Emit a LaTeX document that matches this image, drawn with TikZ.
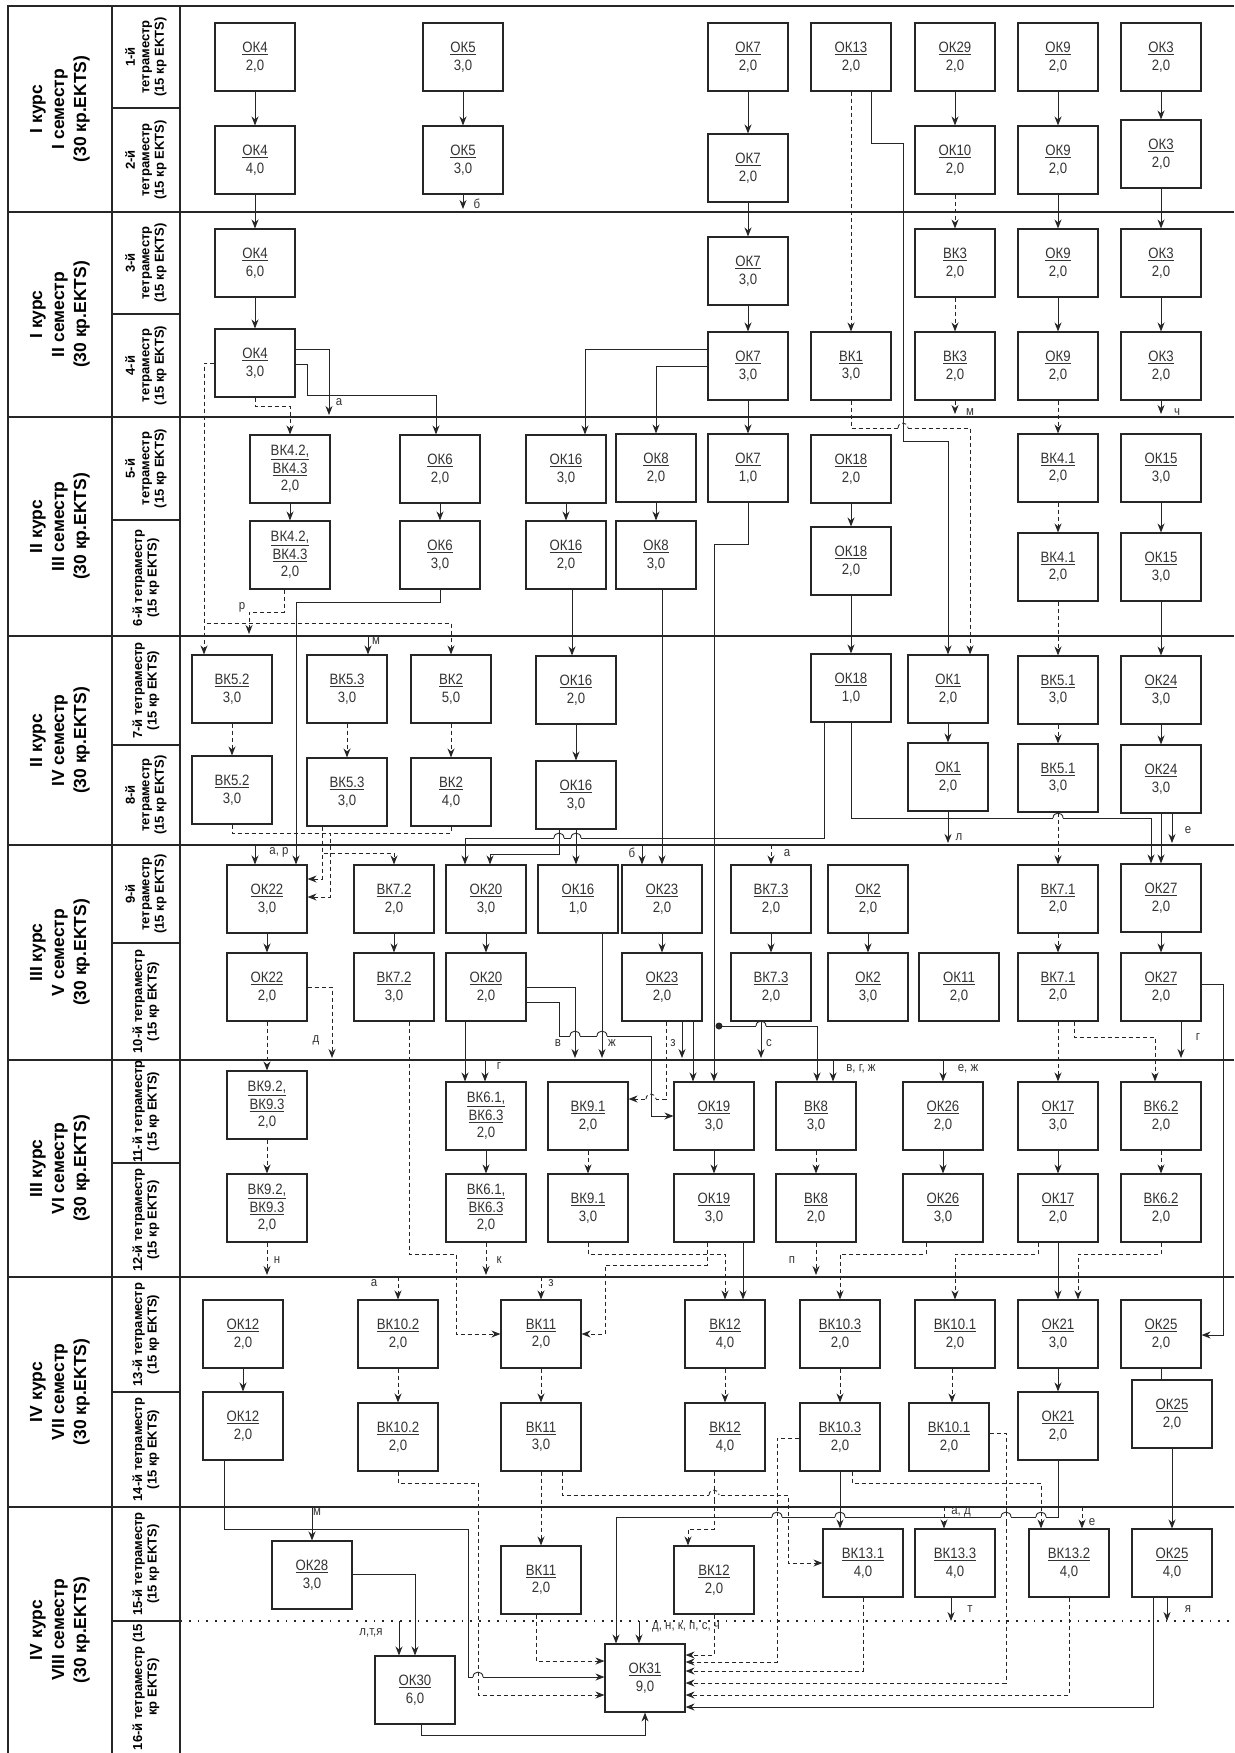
\documentclass[tikz,border=0pt]{standalone}
\usepackage{fontspec}
\setmainfont{Liberation Sans}
\newfontfamily\boxfont{Liberation Sans}[FakeStretch=0.88]
\usetikzlibrary{arrows.meta}

\begin{document}
\begin{tikzpicture}[x=1pt,y=-1pt,
    box/.style={draw=black!85,line width=1.1pt,minimum width=80pt,minimum height=68pt,
      inner sep=0pt,align=center,text=black!80,font=\boxfont\fontsize{15}{17.5}\selectfont},
    ln/.style={draw=black!85,line width=0.9pt},
    arr/.style={ln,-{Stealth[length=9pt,width=7pt]}},
    darr/.style={arr,dash pattern=on 4pt off 3pt},
    dln/.style={ln,dash pattern=on 4pt off 3pt},
    lbl/.style={inner sep=0pt,text=black!80,font=\boxfont\fontsize{13}{15}\selectfont},
    semlbl/.style={rotate=90,align=center,font=\bfseries\fontsize{17.5}{22}\selectfont},
    tetlbl/.style={rotate=90,align=center,font=\bfseries\fontsize{13}{14.5}\selectfont}]
  \useasboundingbox (0,0) rectangle (1234,1753);
  % Sitka: semestry i tetramestry
  \draw[black!85,line width=1.2pt] (1234,6) -- (8,6) -- (8,1753) (112,6) -- (112,1753) (180,6) -- (180,1753);
  \foreach \y in {212,417,636,845,1060,1277,1507}
    \draw[black!85,line width=1.2pt] (8,\y) -- (1234,\y);
  \foreach \y in {108,314,520,745,943,1163,1392,1621}
    \draw[black!85,line width=1.2pt] (112,\y) -- (180,\y);
  \draw[black!85,line width=1.8pt,dash pattern=on 1.8pt off 7pt] (180,1621) -- (1234,1621);
  \foreach \ya/\yb/\txt [count=\i] in {6/212/{I курс\\I семестр\\(30 кр.EKTS)},
      212/417/{I курс\\II семестр\\(30 кр.EKTS)}, 417/636/{II курс\\III семестр\\(30 кр.EKTS)},
      636/845/{II курс\\IV семестр\\(30 кр.EKTS)}, 845/1060/{III курс\\V семестр\\(30 кр.EKTS)},
      1060/1277/{III курс\\VI семестр\\(30 кр.EKTS)}, 1277/1507/{IV курс\\VII семестр\\(30 кр.EKTS)},
      1507/1753/{IV курс\\VIII семестр\\(30 кр.EKTS)}}
    \node[semlbl] (sem\i) at (60,{(\ya+\yb)/2}) {\txt};
  \foreach \ya/\yb/\txt [count=\i] in {6/108/{1-й\\тетраместр\\(15 кр EKTS)},
      108/212/{2-й\\тетраместр\\(15 кр EKTS)}, 212/314/{3-й\\тетраместр\\(15 кр EKTS)},
      314/417/{4-й\\тетраместр\\(15 кр EKTS)}, 417/520/{5-й\\тетраместр\\(15 кр EKTS)},
      520/636/{6-й тетраместр\\(15 кр EKTS)}, 636/745/{7-й тетраместр\\(15 кр EKTS)},
      745/845/{8-й\\тетраместр\\(15 кр EKTS)}, 845/943/{9-й\\тетраместр\\(15 кр EKTS)},
      943/1060/{10-й тетраместр\\(15 кр EKTS)}, 1060/1163/{11-й тетраместр\\(15 кр EKTS)},
      1163/1277/{12-й тетраместр\\(15 кр EKTS)}, 1277/1392/{13-й тетраместр\\(15 кр EKTS)},
      1392/1507/{14-й тетраместр\\(15 кр EKTS)}, 1507/1621/{15-й тетраместр\\(15 кр EKTS)},
      1621/1753/{16-й тетраместр (15\\кр EKTS)}}{
    \begin{scope}
      \clip (112,\ya) rectangle (180,\yb);
      \node[tetlbl] (tet\i) at (146,{(\ya+\yb)/2}) {\txt};
    \end{scope}}
  % Dystsypliny
  \foreach \n/\x/\y/\k/\c in {ok4a/255/57/ОК4/{2,0}, ok5a/463/57/ОК5/{3,0}, ok7a/748/57/ОК7/{2,0},
      ok13/851/57/ОК13/{2,0}, ok29/955/57/ОК29/{2,0}, ok9a/1058/57/ОК9/{2,0}, ok3a/1161/57/ОК3/{2,0},
      ok4b/255/160/ОК4/{4,0}, ok5b/463/160/ОК5/{3,0}, ok7b/748/168/ОК7/{2,0}, ok10/955/160/ОК10/{2,0},
      ok9b/1058/160/ОК9/{2,0}, ok3b/1161/154/ОК3/{2,0},
      ok4c/255/263/ОК4/{6,0}, ok7c/748/271/ОК7/{3,0}, bk3a/955/263/ВК3/{2,0}, ok9c/1058/263/ОК9/{2,0},
      ok3c/1161/263/ОК3/{2,0},
      ok4d/255/363/ОК4/{3,0}, ok7d/748/366/ОК7/{3,0}, bk1/851/366/ВК1/{3,0}, bk3b/955/366/ВК3/{2,0},
      ok9d/1058/366/ОК9/{2,0}, ok3d/1161/366/ОК3/{2,0},
      ok6a/440/469/ОК6/{2,0}, ok16a/566/469/ОК16/{3,0}, ok8a/656/468/ОК8/{2,0}, ok7e/748/468/ОК7/{1,0},
      ok18a/851/469/ОК18/{2,0}, bk41a/1058/468/ВК4.1/{2,0}, ok15a/1161/468/ОК15/{3,0},
      ok6b/440/555/ОК6/{3,0}, ok16b/566/555/ОК16/{2,0}, ok8b/656/555/ОК8/{3,0}, ok18b/851/561/ОК18/{2,0},
      bk41b/1058/567/ВК4.1/{2,0}, ok15b/1161/567/ОК15/{3,0},
      bk52a/232/689/ВК5.2/{3,0}, bk53a/347/689/ВК5.3/{3,0}, bk2a/451/689/ВК2/{5,0}, ok16c/576/690/ОК16/{2,0},
      ok18c/851/688/ОК18/{1,0}, ok1a/948/689/ОК1/{2,0}, bk51a/1058/690/ВК5.1/{3,0}, ok24a/1161/690/ОК24/{3,0},
      bk52b/232/790/ВК5.2/{3,0}, bk53b/347/792/ВК5.3/{3,0}, bk2b/451/792/ВК2/{4,0}, ok16d/576/795/ОК16/{3,0},
      ok1b/948/777/ОК1/{2,0}, bk51b/1058/778/ВК5.1/{3,0}, ok24b/1161/779/ОК24/{3,0},
      ok22a/267/899/ОК22/{3,0}, bk72a/394/899/ВК7.2/{2,0}, ok20a/486/899/ОК20/{3,0}, ok16e/578/899/ОК16/{1,0},
      ok23a/662/899/ОК23/{2,0}, bk73a/771/899/ВК7.3/{2,0}, ok2a/868/899/ОК2/{2,0}, bk71a/1058/899/ВК7.1/{2,0},
      ok27a/1161/898/ОК27/{2,0},
      ok22b/267/987/ОК22/{2,0}, bk72b/394/987/ВК7.2/{3,0}, ok20b/486/987/ОК20/{2,0}, ok23b/662/987/ОК23/{2,0},
      bk73b/771/987/ВК7.3/{2,0}, ok2b/868/987/ОК2/{3,0}, ok11/959/987/ОК11/{2,0}, bk71b/1058/987/ВК7.1/{2,0},
      ok27b/1161/987/ОК27/{2,0},
      bk91a/588/1116/ВК9.1/{2,0}, ok19a/714/1116/ОК19/{3,0}, bk8a/816/1116/ВК8/{3,0}, ok26a/943/1116/ОК26/{2,0},
      ok17a/1058/1116/ОК17/{3,0}, bk62a/1161/1116/ВК6.2/{2,0},
      bk91b/588/1208/ВК9.1/{3,0}, ok19b/714/1208/ОК19/{3,0}, bk8b/816/1208/ВК8/{2,0}, ok26b/943/1208/ОК26/{3,0},
      ok17b/1058/1208/ОК17/{2,0}, bk62b/1161/1208/ВК6.2/{2,0},
      ok12a/243/1334/ОК12/{2,0}, bk102a/398/1334/ВК10.2/{2,0}, bk11a/541/1334/ВК11/{2,0}, bk12a/725/1334/ВК12/{4,0},
      bk103a/840/1334/ВК10.3/{2,0}, bk101a/955/1334/ВК10.1/{2,0}, ok21a/1058/1334/ОК21/{3,0}, ok25a/1161/1334/ОК25/{2,0},
      ok12b/243/1426/ОК12/{2,0}, bk102b/398/1437/ВК10.2/{2,0}, bk11b/541/1437/ВК11/{3,0}, bk12b/725/1437/ВК12/{4,0},
      bk103b/840/1437/ВК10.3/{2,0}, bk101b/949/1437/ВК10.1/{2,0}, ok21b/1058/1426/ОК21/{2,0}, ok25b/1172/1414/ОК25/{2,0},
      ok28/312/1575/ОК28/{3,0}, bk11c/541/1580/ВК11/{2,0}, bk12c/714/1580/ВК12/{2,0}, bk131/863/1563/ВК13.1/{4,0},
      bk133/955/1563/ВК13.3/{4,0}, bk132/1069/1563/ВК13.2/{4,0}, ok25c/1172/1563/ОК25/{4,0},
      ok30/415/1690/ОК30/{6,0}, ok31/645/1678/ОК31/{9,0}}
    \node[box] (\n) at (\x,\y) {\underline{\k}\\\c};
  \foreach \n/\x/\y/\ka/\kb in {bk42a/290/469/ВК4.2/ВК4.3, bk42b/290/555/ВК4.2/ВК4.3, bk92a/267/1105/ВК9.2/ВК9.3,
      bk92b/267/1208/ВК9.2/ВК9.3, bk61a/486/1116/ВК6.1/ВК6.3, bk61b/486/1208/ВК6.1/ВК6.3}
    \node[box] (\n) at (\x,\y) {\underline{\ka,}\\\underline{\kb}\\2,0};
  % Vilni kintsi strilok
  \foreach \n/\x/\y in {sb1/463/209, sm1/955/414, sch/1161/414, sa1/329/415, sr/249/634, sl/948/843,
      se1/1172/843, szh/602/1058, sd/332/1058, sv/575/1058, sz2/682/1058, ss/761/1058, sg2/1181/1058,
      sn/267/1275, sk/486/1275, sp/816/1275, st/951/1621, sya/1167/1621,
      sar/255/845, sm2/368/636, sb2/642/845, sa2/771/845, sg1/485/1060, svgzh/833/1060, sezh/943/1060,
      sa3/398/1277, sz3/541/1277, sm3/312/1507, slty/399/1621, sad/944/1507, se2/1082/1507, sdn/639/1621,
      dot/719/1026}
    \coordinate (\n) at (\x,\y);
  \foreach \x/\y/\t [count=\i] in {477/204/б, 970/412/м, 1177/412/ч, 339/402/а, 242/607/р, 376/641/м,
      279/852/{а, р}, 959/837/л, 1188/830/е, 632/853/б, 787/853/а, 612/1043/ж, 558/1043/в, 673/1043/з,
      769/1043/с, 316/1040/д, 1198/1037/г, 499/1066/г, 861/1069/{в, г, ж}, 968/1069/{е, ж}, 277/1260/н,
      499/1260/к, 792/1260/п, 374/1283/а, 551/1283/з, 317/1512/м, 371/1633/{л,т,я}, 961/1512/{а, д},
      1092/1522/е, 970/1609/т, 1188/1609/я, 686/1627/{д, н, к, п, с, ч}}
    \node[lbl] (lab\i) at (\x,\y) {\t};
  % Priami zviazky
  \foreach \na/\nb in {ok4a/ok4b, ok4b/ok4c, ok4c/ok4d, ok5a/ok5b, ok7a/ok7b, ok7b/ok7c, ok7c/ok7d,
      ok7d/ok7e, ok29/ok10, ok9a/ok9b, ok9b/ok9c, ok9c/ok9d, ok3a/ok3b, ok3b/ok3c, ok3c/ok3d,
      bk42a/bk42b, ok6a/ok6b, ok16a/ok16b, ok8a/ok8b, ok18a/ok18b, ok18b/ok18c, ok15a/ok15b,
      ok15b/ok24a, ok24a/ok24b, ok24b/ok27a, ok1a/ok1b, ok16c/ok16d, ok22a/ok22b, bk72a/bk72b,
      ok20a/ok20b, ok23a/ok23b, bk73a/bk73b, ok2a/ok2b, ok27a/ok27b, bk61a/bk61b, ok19a/ok19b,
      ok26a/ok26b, ok17a/ok17b, ok17b/ok21a, ok21a/ok21b, ok12a/ok12b, ok25b/ok25c}
    \draw[arr] (\na) -- (\nb);
  \foreach \na/\nb in {ok10/bk3a, bk3a/bk3b, ok13/bk1, ok9d/bk41a, bk41a/bk41b, bk41b/bk51a,
      bk51a/bk51b, bk51b/bk71a, bk71a/bk71b, bk71b/ok17a, bk52a/bk52b, bk53a/bk53b, bk2a/bk2b,
      ok22b/bk92a, bk92a/bk92b, bk91a/bk91b, bk8a/bk8b, bk62a/bk62b, bk102a/bk102b, bk11a/bk11b,
      bk12a/bk12b, bk103a/bk103b, bk11b/bk11c}
    \draw[darr] (\na) -- (\nb);
  \foreach \na/\nb/\ls in {ok5b/sb1/arr, bk3b/sm1/darr, ok3d/sch/arr, ok1b/sl/arr, ok24b/se1/arr,
      ok16e/szh/arr, ok23b/sz2/arr, bk73b/ss/arr, ok27b/sg2/arr, bk92b/sn/darr, bk61b/sk/darr,
      bk8b/sp/darr, bk133/st/arr, ok25c/sya/arr}
    \draw[\ls] (\na.south -| \nb) -- (\nb);
  \foreach \na/\nb/\ls in {sar/ok22a/arr, sm2/bk53a/arr, sb2/ok23a/arr, sa2/bk73a/darr, sg1/bk61a/arr,
      svgzh/bk8a/arr, sezh/ok26a/arr, sa3/bk102a/darr, sz3/bk11a/darr, sm3/ok28/arr, slty/ok30/arr,
      sad/bk133/darr, se2/bk132/darr, sdn/ok31/arr}
    \draw[\ls] (\na) -- (\nb.north -| \na);
  % Lamani zviazky
  \draw[arr] (ok13.south -| 871,0) |- (903,143) |- (ok1a.north |- 0,441) -- (ok1a.north);
  \draw[darr] (bk1.south) |- (970,428) -- (ok1a.north -| 970,0);
  \draw[arr] (ok4d.east |- 0,349) -| (sa1);
  \draw[arr] (ok4d.east |- 0,364) -| (307,395) -| (ok6a.north -| 436,0);
  \draw[darr] (ok4d.south) |- (bk42a.north |- 0,406) -- (bk42a.north);
  \draw[darr] (ok4d.west |- 0,363) -| (bk52a.north -| 204,0);
  \draw[darr] (ok4d.west |- 0,363) -| (204,623) -| (bk2a.north);
  \draw[arr] (ok7d.west |- 0,349) -| (ok16a.north -| 585,0);
  \draw[arr] (ok7d.west |- 0,366) -| (ok8a.north);
  \draw[darr] (bk42b.south -| 284,0) |- (249,612) -- (sr);
  \draw[arr] (ok6b.south) |- (296,602) -- (ok22a.north -| 296,0);
  \draw[arr] (ok16b.south -| 572,0) -- (ok16c.north -| 572,0);
  \draw[darr] (bk52b.south) |- (330,833) |- (ok22a.east |- 0,897);
  \draw[dln] (bk2b.south) |- (330,833);
  \draw[darr] (bk53b.south -| 322,0) |- (ok22a.east |- 0,879);
  \draw[darr] (bk53b.south -| 322,0) |- (bk72a.north |- 0,853) -- (bk72a.north);
  \draw[arr] (ok16d.south -| 559,0) |- (490,854) -- (ok20a.north -| 490,0);
  \draw[arr] (ok16d.south) -- (ok16e.north -| ok16d.south);
  \draw[arr] (ok18c.south -| 824,0) |- (465,838) -- (ok20a.north -| 465,0);
  \draw[arr] (ok18c.south) |- (1151,818) -- (ok27a.north -| 1151,0);
  \draw[arr] (ok8b.south -| 662,0) -- (ok23a.north);
  \draw[arr] (ok7e.south) |- (714,544) -- (ok19a.north);
  \fill[black!85] (dot) circle[radius=3.5pt];
  \draw[arr] (dot) -| (bk8a.north -| 817,0);
  \draw[darr] (ok22b.east |- 0,987) -| (sd);
  \draw[darr] (bk72b.south -| 409,0) |- (456,1254) |- (bk11a.west |- 0,1334);
  \draw[arr] (ok20b.south -| 465,0) -- (bk61a.north -| 465,0);
  \draw[arr] (ok20b.east |- 0,987) -| (sv);
  \draw[arr] (ok20b.east |- 0,1002) -| (559,1036) -| (651,1116) -- (ok19a.west |- 0,1116);
  \draw[darr] (ok23b.south -| 666,0) |- (bk91a.east |- 0,1099);
  \draw[arr] (ok23b.south -| 693,0) -- (ok19a.north -| 693,0);
  \draw[darr] (bk71b.south -| 1074,0) |- (1155,1037) -- (bk62a.north -| 1155,0);
  \draw[arr] (ok27b.east |- 0,984) -| (1223,1335) -- (ok25a.east |- 0,1335);
  \draw[darr] (bk91b.south) |- (725,1254) -- (bk12a.north);
  \draw[darr] (ok19b.south -| 707,0) |- (605,1265) |- (bk11a.east |- 0,1334);
  \draw[arr] (ok19b.south -| 743,0) -- (bk12a.north -| 743,0);
  \draw[darr] (ok26b.south -| 926,0) |- (840,1254) -- (bk103a.north);
  \draw[darr] (ok17b.south -| 1038,0) |- (955,1254) -- (bk101a.north);
  \draw[darr] (bk62b.south) |- (1078,1254) -- (ok21a.north -| 1078,0);
  \draw[darr] (bk101a.south -| 952,0) -- (bk101b.north -| 952,0);
  \draw[ln] (ok25a.south) -- (ok25a.south |- ok25b.north);
  \draw[arr] (ok12b.south -| 224,0) |- (468,1529) |- (ok31.west |- 0,1677);
  \draw[arr] (ok28.east |- 0,1574) -| (ok30.north);
  \draw[arr] (ok30.south -| 421,0) |- (645,1735) -- (ok31.south);
  \draw[darr] (bk102b.south) |- (478,1483) |- (ok31.west |- 0,1695);
  \draw[darr] (bk11b.south -| 562,0) |- (788,1495) |- (bk131.west |- 0,1563);
  \draw[darr] (bk11c.south -| 536,0) |- (ok31.west |- 0,1661);
  \draw[darr] (bk12b.south -| 714,0) |- (688,1529) -- (bk12c.north -| 688,0);
  \draw[arr] (bk103b.south) -- (bk131.north -| bk103b.south);
  \draw[darr] (bk103b.west |- 0,1438) -| (777,1662) -- (ok31.east |- 0,1662);
  \draw[darr] (bk103b.south -| 852,0) |- (1041,1483) -- (bk132.north -| 1041,0);
  \draw[darr] (bk101b.east |- 0,1433) -| (1006,1683) -- (ok31.east |- 0,1683);
  \draw[arr] (ok21b.south) |- (616,1517) -- (ok31.north -| 616,0);
  \draw[darr] (bk12c.south) |- (ok31.east |- 0,1655);
  \draw[darr] (bk131.south) |- (ok31.east |- 0,1671);
  \draw[darr] (bk132.south) |- (ok31.east |- 0,1695);
  \draw[arr] (ok25c.south -| 1153,0) |- (ok31.east |- 0,1707);
  % Perekhresttia liniy
  \foreach \x/\y/\hs/\vs in {559/838/ln/ln, 576/838/ln/ln, 575/1036/ln/ln, 602/1036/ln/ln,
      761/1026/ln/ln, 840/1517/ln/ln, 1058/818/ln/dln, 777/1517/ln/dln, 1006/1517/ln/dln,
      1041/1517/ln/dln, 478/1677/ln/dln, 903/428/dln/ln, 651/1099/dln/ln, 714/1495/dln/dln}{
    \fill[white] (\x-5,\y-1.5) rectangle (\x+5,\y+1.5);
    \draw[\vs] (\x,\y-5) -- (\x,\y+5);
    \draw[\hs] (\x-5,\y) .. controls (\x-5,\y-6.5) and (\x+5,\y-6.5) .. (\x+5,\y);
  }
\end{tikzpicture}
\end{document}
